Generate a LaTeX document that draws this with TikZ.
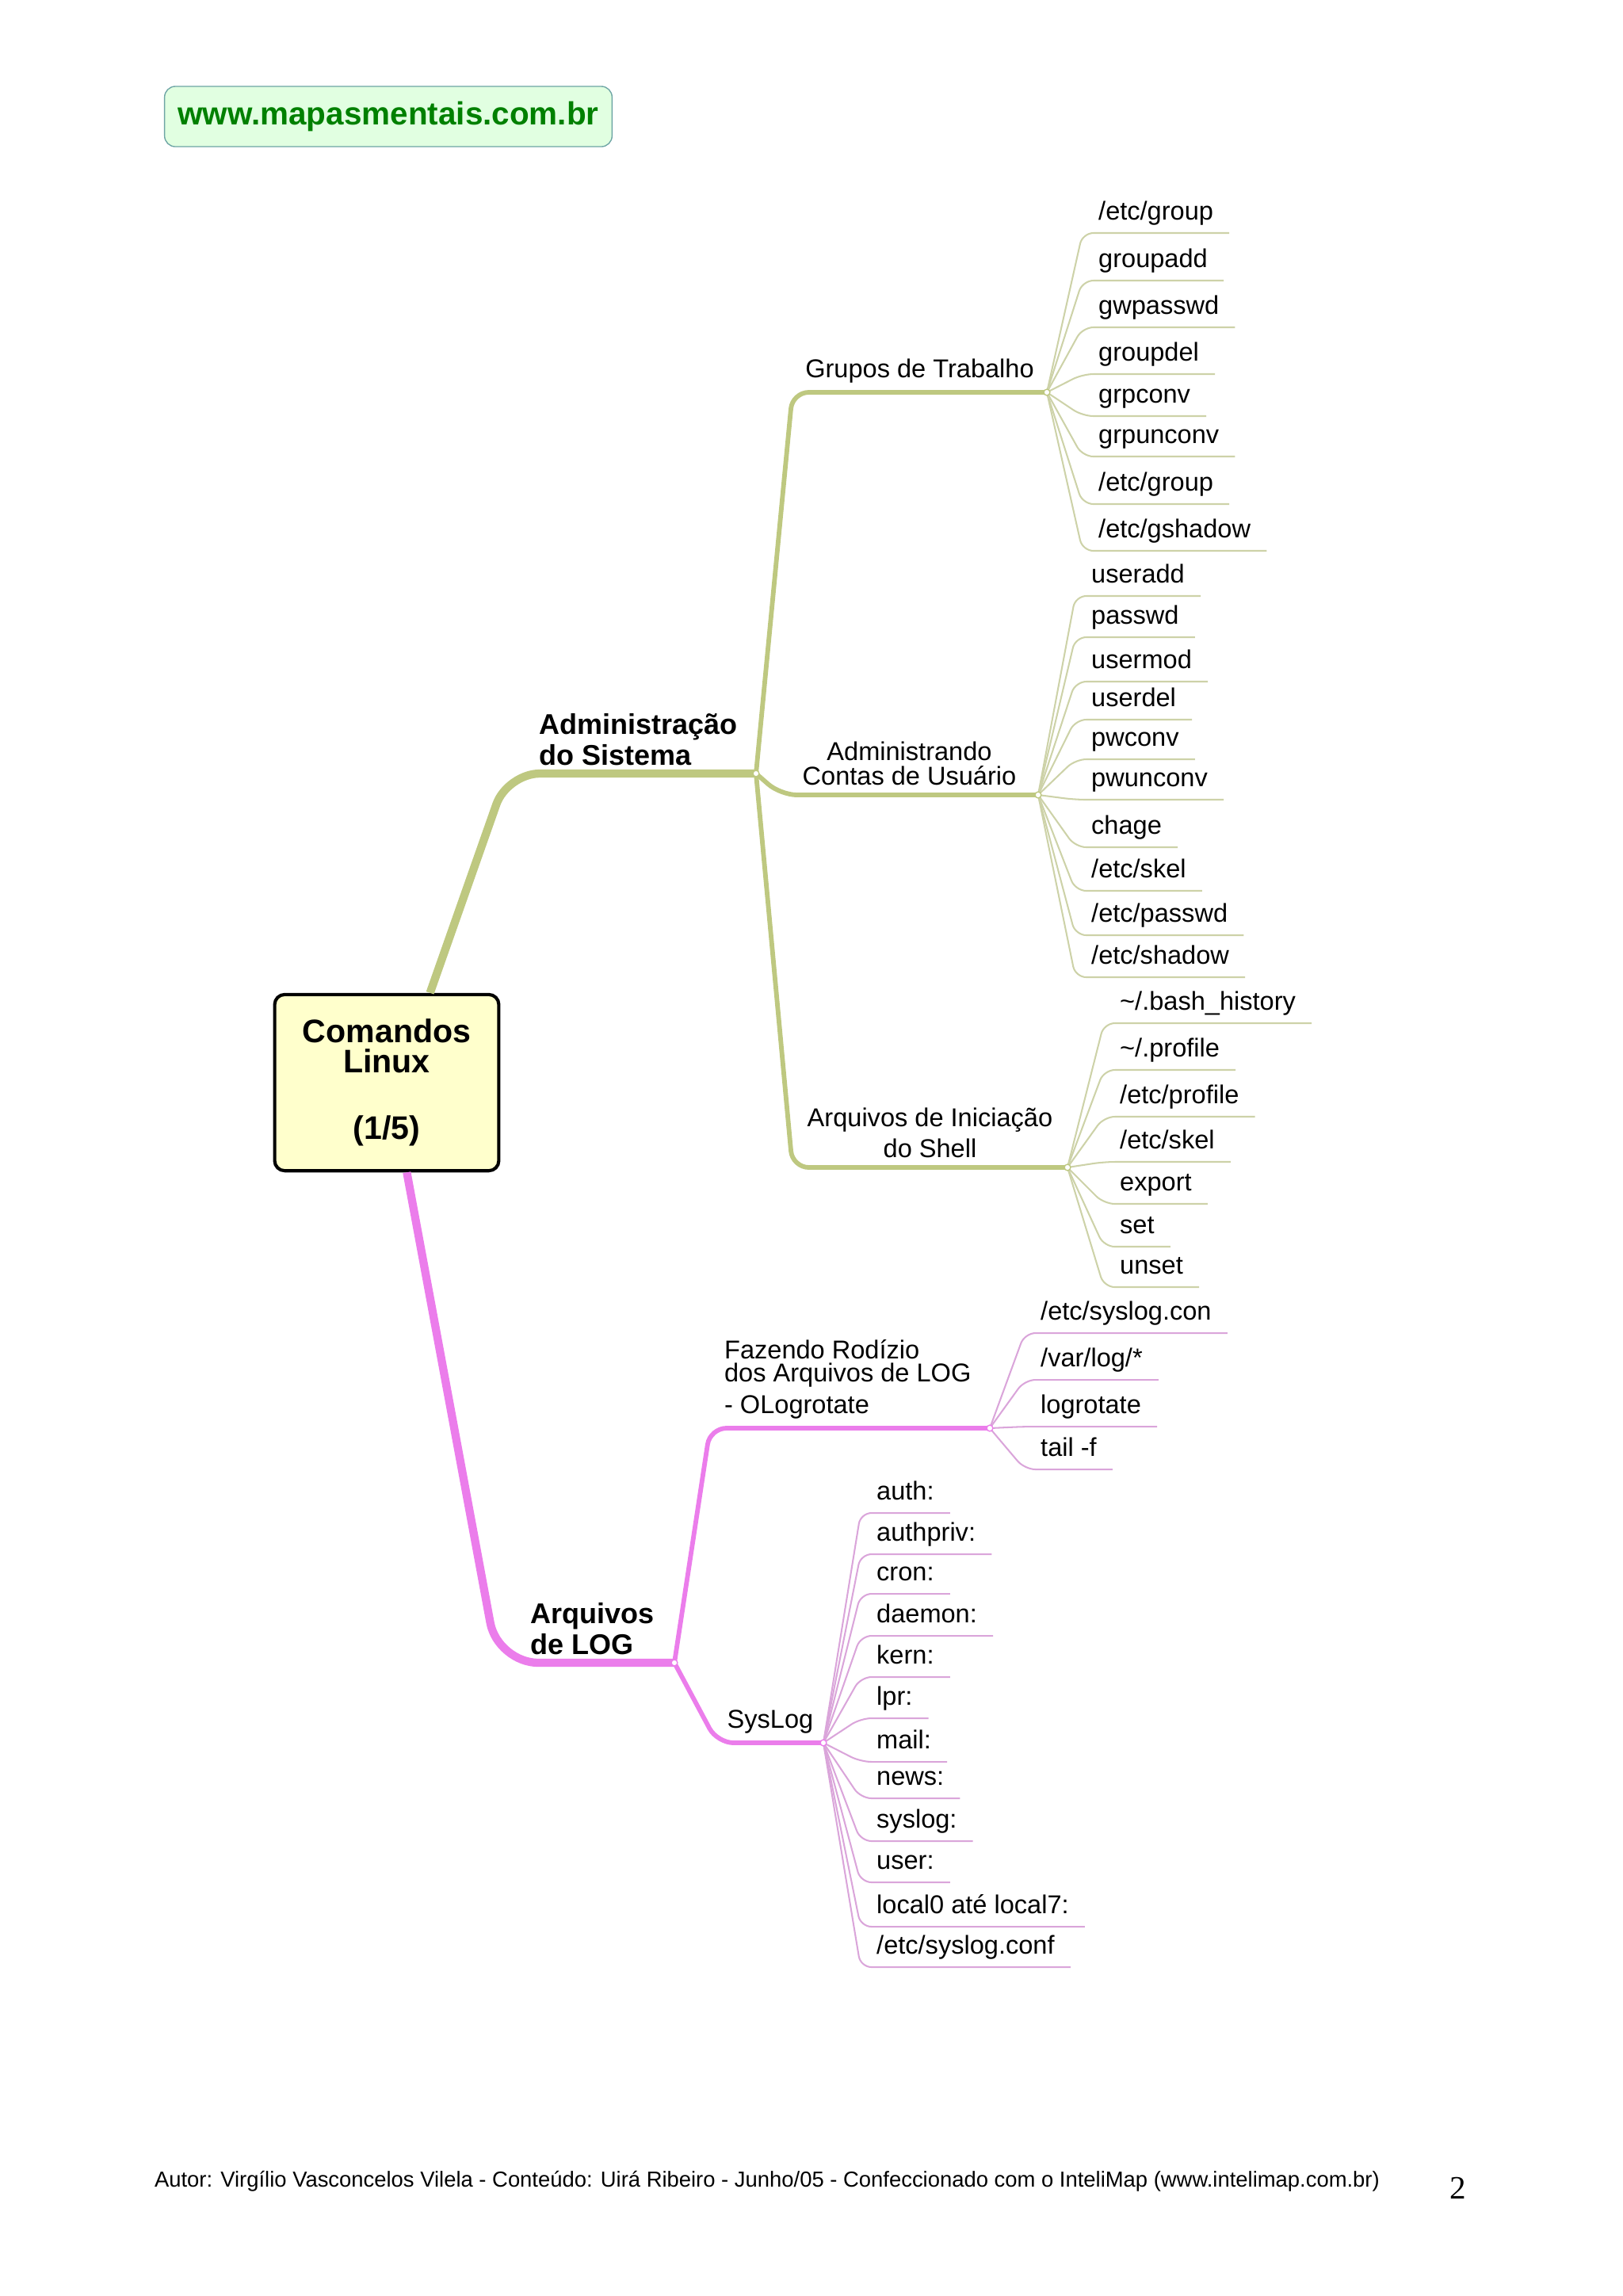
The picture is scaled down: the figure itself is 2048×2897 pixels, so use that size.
\documentclass[tikz,border=0pt]{standalone}
\usepackage{fontspec}
\setmainfont{Liberation Sans}
\newfontfamily\timesfont{Liberation Serif}
\usetikzlibrary{calc}
\definecolor{verde}{RGB}{190,200,128}
\definecolor{verdeclaro}{RGB}{205,210,168}
\definecolor{rosa}{RGB}{235,125,235}
\definecolor{rosaclaro}{RGB}{218,165,218}
\definecolor{amarelo}{RGB}{255,255,204}
\definecolor{siteverde}{RGB}{0,128,0}
\definecolor{sitefundo}{RGB}{225,255,225}
\definecolor{siteborda}{RGB}{110,165,165}
\begin{document}
\begin{tikzpicture}[x=0.10254mm,y=-0.10254mm,
		main/.style={line width=3pt,rounded corners=12pt},
		sub/.style={line width=1.7pt,rounded corners=6pt},
		twig/.style={line width=0.6pt,rounded corners=4pt},
		leaf/.style={anchor=south west,inner xsep=2mm,inner ysep=0.6mm,text height=0.72em,text depth=0.28em,font=\fontsize{9.5}{11}\selectfont},
		lbl/.style={font=\fontsize{9.5}{10.5}\selectfont,align=center},
		bold/.style={font=\fontsize{10.5}{11.4}\selectfont\bfseries,align=left,anchor=south west,inner sep=1mm},
		knot/.style={circle,fill=white,inner sep=0pt,minimum size=0.8mm,line width=0.4pt}]
		\useasboundingbox (0,0) rectangle (2048,2897);
		% cabecalho e rodape
		\node[draw=siteborda,fill=sitefundo,rounded corners=1.4mm,minimum width=57.9mm,minimum height=7.8mm,font=\fontsize{11.8}{12}\selectfont\bfseries,text=siteverde] (site) at (490,147) {www.mapasmentais.com.br};
		\node[font=\fontsize{8}{9}\selectfont] (autor) at (968,2752) {Autor: Virgílio Vasconcelos Vilela - Conteúdo: Uirá Ribeiro - Junho/05 - Confeccionado com o InteliMap (www.intelimap.com.br)};
		\node[font=\timesfont\fontsize{12}{14}\selectfont] (pag) at (1840,2761) {2};
		% no central
		\node[draw,line width=1.2pt,rounded corners=1.3mm,fill=amarelo,minimum width=29mm,minimum height=22.8mm,font=\fontsize{12}{11}\selectfont\bfseries,align=center] (cmd) at (488,1366) {Comandos\\Linux\\[13.5pt](1/5)};
		% ramos principais
		\coordinate (A) at (954,976);
		\coordinate (mc) at (640,976);
		\coordinate (B) at (851,2098);
		\coordinate (mp) at (628,2098);
		\draw[main,verde] ([xshift=5.6mm]cmd.north) -- (mc) -- (A);
		\draw[main,rosa,rounded corners=15pt] ([xshift=2.6mm]cmd.south) -- (mp) -- (B);
		\node[bold] (admin) at (670,976) {Administração\\do Sistema};
		\node[bold] (logs) at (659,2098) {Arquivos\\de LOG};
		% sub-ramos
		\coordinate (gc) at (1000,495);
		\coordinate (gJ) at (1321,495);
		\coordinate (ac) at (985,1003);
		\coordinate (aJ) at (1310,1003);
		\coordinate (sc) at (1000,1473);
		\coordinate (sJ) at (1347,1473);
		\coordinate (fc) at (896,1802);
		\coordinate (fJ) at (1249,1802);
		\coordinate (yc) at (905,2199);
		\coordinate (yJ) at (1039,2199);
		\draw[sub,verde] (A) -- (gc) -- (gJ);
		\draw[sub,verde] (A) -- (ac) -- (aJ);
		\draw[sub,verde] (A) -- (sc) -- (sJ);
		\draw[sub,rosa] (B) -- (fc) -- (fJ);
		\draw[sub,rosa] (B) -- (yc) -- (yJ);
		\node[lbl,above] (grupos) at ($(gc)!.5!(gJ)$) {Grupos de Trabalho};
		\node[lbl,above] (contas) at ($(ac)!.5!(aJ)$) {Administrando\\[-1.5pt]Contas de Usuário};
		\node[lbl,above] (shell) at ($(sc)!.5!(sJ)$) {Arquivos de Iniciação\\[1pt]do Shell};
		\node[lbl,align=left,anchor=south west] (rodizio) at (902,1802) {Fazendo Rodízio\\[-2pt]dos Arquivos de LOG\\[1pt]- OLogrotate};
		\node[lbl,above] (syslog) at ($(yc)!.5!(yJ)$) {SysLog};
		% Grupos de Trabalho
		\node[leaf] (g1) at (1366,294) {/etc/group}; \draw[twig,verdeclaro] (gJ) -- (g1.south west) -- (g1.south east);
		\node[leaf] (g2) at (1366,354) {groupadd}; \draw[twig,verdeclaro] (gJ) -- (g2.south west) -- (g2.south east);
		\node[leaf] (g3) at (1366,413) {gwpasswd}; \draw[twig,verdeclaro] (gJ) -- (g3.south west) -- (g3.south east);
		\node[leaf] (g4) at (1366,472) {groupdel}; \draw[twig,verdeclaro] (gJ) -- (g4.south west) -- (g4.south east);
		\node[leaf] (g5) at (1366,525) {grpconv}; \draw[twig,verdeclaro] (gJ) -- (g5.south west) -- (g5.south east);
		\node[leaf] (g6) at (1366,576) {grpunconv}; \draw[twig,verdeclaro] (gJ) -- (g6.south west) -- (g6.south east);
		\node[leaf] (g7) at (1366,636) {/etc/group}; \draw[twig,verdeclaro] (gJ) -- (g7.south west) -- (g7.south east);
		\node[leaf] (g8) at (1366,695) {/etc/gshadow}; \draw[twig,verdeclaro] (gJ) -- (g8.south west) -- (g8.south east);
		% Administrando Contas de Usuario
		\node[leaf] (a1) at (1357,752) {useradd}; \draw[twig,verdeclaro] (aJ) -- (a1.south west) -- (a1.south east);
		\node[leaf] (a2) at (1357,804) {passwd}; \draw[twig,verdeclaro] (aJ) -- (a2.south west) -- (a2.south east);
		\node[leaf] (a3) at (1357,860) {usermod}; \draw[twig,verdeclaro] (aJ) -- (a3.south west) -- (a3.south east);
		\node[leaf] (a4) at (1357,908) {userdel}; \draw[twig,verdeclaro] (aJ) -- (a4.south west) -- (a4.south east);
		\node[leaf] (a5) at (1357,958) {pwconv}; \draw[twig,verdeclaro] (aJ) -- (a5.south west) -- (a5.south east);
		\node[leaf] (a6) at (1357,1009) {pwunconv}; \draw[twig,verdeclaro] (aJ) -- (a6.south west) -- (a6.south east);
		\node[leaf] (a7) at (1357,1069) {chage}; \draw[twig,verdeclaro] (aJ) -- (a7.south west) -- (a7.south east);
		\node[leaf] (a8) at (1357,1124) {/etc/skel}; \draw[twig,verdeclaro] (aJ) -- (a8.south west) -- (a8.south east);
		\node[leaf] (a9) at (1357,1180) {/etc/passwd}; \draw[twig,verdeclaro] (aJ) -- (a9.south west) -- (a9.south east);
		\node[leaf] (a10) at (1357,1233) {/etc/shadow}; \draw[twig,verdeclaro] (aJ) -- (a10.south west) -- (a10.south east);
		% Arquivos de Iniciacao do Shell
		\node[leaf] (s1) at (1393,1291) {\textasciitilde/.bash\_history}; \draw[twig,verdeclaro] (sJ) -- (s1.south west) -- (s1.south east);
		\node[leaf] (s2) at (1393,1350) {\textasciitilde/.profile}; \draw[twig,verdeclaro] (sJ) -- (s2.south west) -- (s2.south east);
		\node[leaf] (s3) at (1393,1409) {/etc/profile}; \draw[twig,verdeclaro] (sJ) -- (s3.south west) -- (s3.south east);
		\node[leaf] (s4) at (1393,1466) {/etc/skel}; \draw[twig,verdeclaro] (sJ) -- (s4.south west) -- (s4.south east);
		\node[leaf] (s5) at (1393,1519) {export}; \draw[twig,verdeclaro] (sJ) -- (s5.south west) -- (s5.south east);
		\node[leaf] (s6) at (1393,1573) {set}; \draw[twig,verdeclaro] (sJ) -- (s6.south west) -- (s6.south east);
		\node[leaf] (s7) at (1393,1624) {unset}; \draw[twig,verdeclaro] (sJ) -- (s7.south west) -- (s7.south east);
		% Fazendo Rodizio
		\node[leaf] (f1) at (1293,1682) {/etc/syslog.con}; \draw[twig,rosaclaro] (fJ) -- (f1.south west) -- (f1.south east);
		\node[leaf] (f2) at (1293,1741) {/var/log/*}; \draw[twig,rosaclaro] (fJ) -- (f2.south west) -- (f2.south east);
		\node[leaf] (f3) at (1293,1800) {logrotate}; \draw[twig,rosaclaro] (fJ) -- (f3.south west) -- (f3.south east);
		\node[leaf] (f4) at (1293,1854) {tail -f}; \draw[twig,rosaclaro] (fJ) -- (f4.south west) -- (f4.south east);
		% SysLog
		\node[leaf] (y1) at (1086,1909) {auth:}; \draw[twig,rosaclaro] (yJ) -- (y1.south west) -- (y1.south east);
		\node[leaf] (y2) at (1086,1961) {authpriv:}; \draw[twig,rosaclaro] (yJ) -- (y2.south west) -- (y2.south east);
		\node[leaf] (y3) at (1086,2011) {cron:}; \draw[twig,rosaclaro] (yJ) -- (y3.south west) -- (y3.south east);
		\node[leaf] (y4) at (1086,2064) {daemon:}; \draw[twig,rosaclaro] (yJ) -- (y4.south west) -- (y4.south east);
		\node[leaf] (y5) at (1086,2116) {kern:}; \draw[twig,rosaclaro] (yJ) -- (y5.south west) -- (y5.south east);
		\node[leaf] (y6) at (1086,2168) {lpr:}; \draw[twig,rosaclaro] (yJ) -- (y6.south west) -- (y6.south east);
		\node[leaf] (y7) at (1086,2223) {mail:}; \draw[twig,rosaclaro] (yJ) -- (y7.south west) -- (y7.south east);
		\node[leaf] (y8) at (1086,2269) {news:}; \draw[twig,rosaclaro] (yJ) -- (y8.south west) -- (y8.south east);
		\node[leaf] (y9) at (1086,2323) {syslog:}; \draw[twig,rosaclaro] (yJ) -- (y9.south west) -- (y9.south east);
		\node[leaf] (y10) at (1086,2375) {user:}; \draw[twig,rosaclaro] (yJ) -- (y10.south west) -- (y10.south east);
		\node[leaf] (y11) at (1086,2431) {local0 até local7:}; \draw[twig,rosaclaro] (yJ) -- (y11.south west) -- (y11.south east);
		\node[leaf] (y12) at (1086,2482) {/etc/syslog.conf}; \draw[twig,rosaclaro] (yJ) -- (y12.south west) -- (y12.south east);
		% nos de juncao
		\node[knot,draw=verde] at (A) {};
		\node[knot,draw=verde] at (gJ) {};
		\node[knot,draw=verde] at (aJ) {};
		\node[knot,draw=verde] at (sJ) {};
		\node[knot,draw=rosa] at (B) {};
		\node[knot,draw=rosa] at (fJ) {};
		\node[knot,draw=rosa] at (yJ) {};
	\end{tikzpicture}
\end{document}
